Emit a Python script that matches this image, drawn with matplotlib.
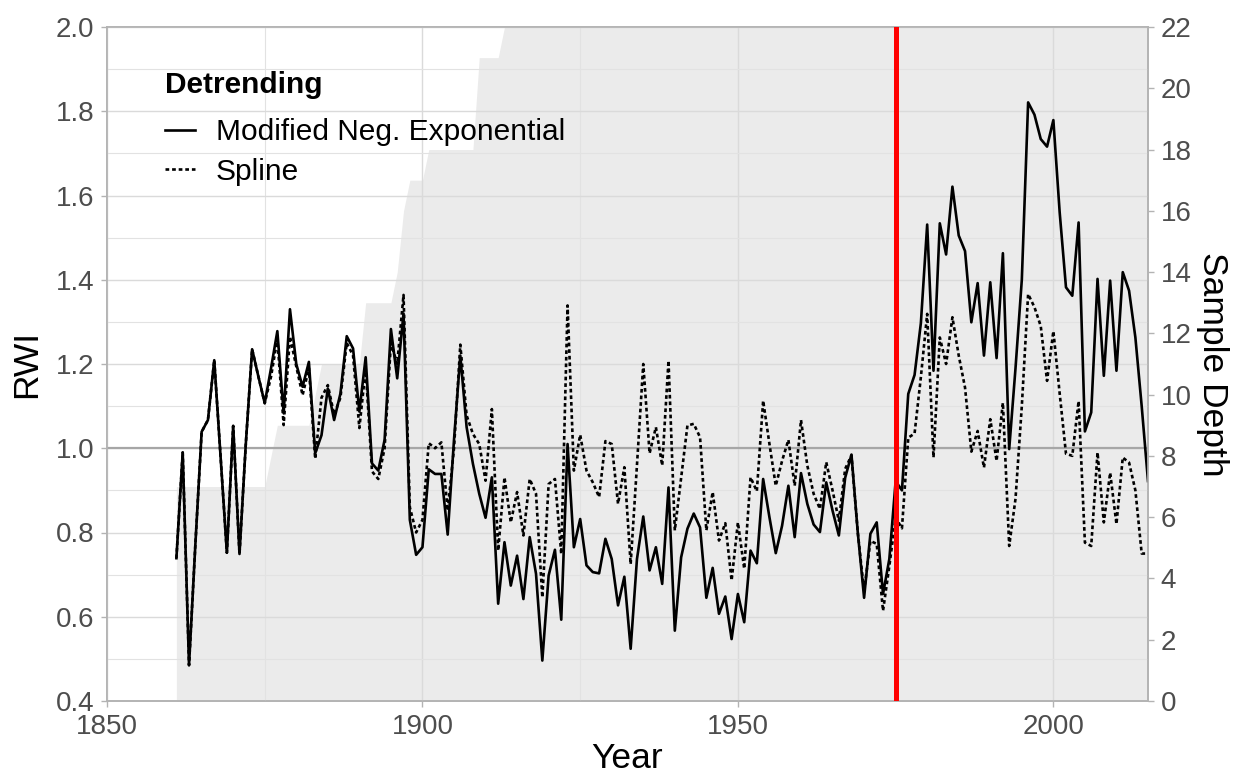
import numpy as np
import matplotlib
matplotlib.use('Agg')
import matplotlib.pyplot as plt

plt.rcParams['font.family'] = ['Liberation Sans', 'DejaVu Sans']

#####################################################################
#                           DATA                                    #
#####################################################################

years = list(range(1861, 2016))

# Modified negative exponential detrending (solid)
mne = [0.739, 0.990, 0.485, 0.770, 1.039, 1.067, 1.209, 0.981, 0.752, 1.053,
       0.749, 1.010, 1.235, 1.170, 1.107, 1.190, 1.278, 1.083, 1.330, 1.200,
       1.146, 1.205, 0.988, 1.031, 1.142, 1.067, 1.130, 1.266, 1.237, 1.087,
       1.216, 0.964, 0.947, 1.020, 1.283, 1.166, 1.320, 0.830, 0.747, 0.765,
       0.950, 0.939, 0.939, 0.795, 1.020, 1.220, 1.050, 0.963, 0.892, 0.835,
       0.931, 0.631, 0.777, 0.674, 0.745, 0.642, 0.789, 0.702, 0.496, 0.698,
       0.759, 0.593, 1.010, 0.765, 0.832, 0.722, 0.706, 0.703, 0.785, 0.737,
       0.627, 0.695, 0.524, 0.737, 0.838, 0.710, 0.765, 0.678, 0.907, 0.567,
       0.741, 0.809, 0.845, 0.812, 0.645, 0.716, 0.607, 0.648, 0.547, 0.654,
       0.587, 0.757, 0.727, 0.927, 0.836, 0.751, 0.816, 0.911, 0.789, 0.941,
       0.868, 0.819, 0.801, 0.919, 0.852, 0.793, 0.930, 0.985, 0.800, 0.645,
       0.797, 0.824, 0.654, 0.737, 0.922, 0.900, 1.129, 1.174, 1.297, 1.531,
       1.184, 1.534, 1.460, 1.621, 1.505, 1.468, 1.299, 1.392, 1.220, 1.394,
       1.214, 1.463, 0.998, 1.190, 1.400, 1.821, 1.792, 1.734, 1.716, 1.779,
       1.560, 1.382, 1.362, 1.536, 1.040, 1.085, 1.402, 1.172, 1.398, 1.184,
       1.418, 1.374, 1.263, 1.100, 0.922]

# Spline detrending (dotted)
spline = [0.739, 0.990, 0.485, 0.770, 1.039, 1.067, 1.209, 0.981, 0.752, 1.053,
          0.749, 1.010, 1.235, 1.170, 1.107, 1.170, 1.260, 1.055, 1.265, 1.194,
          1.126, 1.190, 0.975, 1.120, 1.150, 1.080, 1.120, 1.250, 1.220, 1.048,
          1.190, 0.945, 0.927, 1.000, 1.250, 1.200, 1.364, 0.860, 0.800, 0.830,
          1.012, 1.000, 1.014, 0.852, 1.000, 1.246, 1.078, 1.034, 1.010, 0.923,
          1.093, 0.757, 0.931, 0.824, 0.896, 0.793, 0.927, 0.892, 0.646, 0.915,
          0.927, 0.749, 1.339, 0.947, 1.032, 0.947, 0.919, 0.884, 1.017, 1.010,
          0.868, 0.955, 0.725, 0.960, 1.200, 0.988, 1.050, 0.959, 1.208, 0.805,
          0.930, 1.054, 1.058, 1.026, 0.805, 0.896, 0.781, 0.822, 0.686, 0.824,
          0.714, 0.931, 0.898, 1.113, 1.010, 0.911, 0.970, 1.020, 0.911, 1.067,
          0.959, 0.892, 0.856, 0.967, 0.900, 0.828, 0.951, 0.983, 0.800, 0.660,
          0.780, 0.773, 0.614, 0.720, 0.835, 0.810, 1.025, 1.035, 1.169, 1.319,
          0.978, 1.263, 1.200, 1.311, 1.220, 1.144, 0.992, 1.041, 0.954, 1.069,
          0.970, 1.108, 0.768, 0.880, 1.100, 1.366, 1.335, 1.290, 1.160, 1.278,
          1.130, 0.987, 0.982, 1.112, 0.776, 0.768, 0.990, 0.824, 0.942, 0.820,
          0.978, 0.966, 0.900, 0.750, 0.750]

# number of series per year (values above 22 are off the chart)
depth = ([7] * 15 + [8] + [9] * 6 + [10] + [11] * 7 + [13] * 5 + [14, 16]
         + [17] * 3 + [18] * 8 + [21] * 4 + [22] + [24] * 102)

cutoff_year = 1975

#####################################################################
#                           PLOT                                    #
#####################################################################

fig = plt.figure(figsize=(12.39, 7.76), dpi=100)
ax = fig.add_axes([107 / 1239, 1 - 701 / 776, (1148 - 107) / 1239, (701 - 27) / 776])
ax_d = ax.twinx()
ax.set_zorder(ax_d.get_zorder() + 1)
ax.patch.set_visible(False)

# sample depth area on the secondary axis (drawn underneath)
ax_d.fill_between(years, 0, depth, color='#EBEBEB', lw=0)
ax_d.set_ylim(0, 22)
ax_d.set_yticks(range(0, 23, 2))

# grid
ax.set_xlim(1850, 2015)
ax.set_ylim(0.4, 2.0)
ax.set_xticks([1850, 1900, 1950, 2000])
ax.set_xticks([1875, 1925, 1975], minor=True)
ax.set_yticks(np.arange(0.4, 2.01, 0.2))
ax.set_yticks(np.arange(0.5, 2.0, 0.2), minor=True)
ax.set_yticklabels(['%.1f' % v for v in np.arange(0.4, 2.01, 0.2)])
ax.set_axisbelow(True)
ax.grid(which='major', color='#DADADA', lw=1.0)
ax.grid(which='minor', color='#E2E2E2', lw=0.8)

ax.axhline(1.0, color='#A6A6A6', lw=1.6, zorder=1.8)

ax.plot(years, spline, color='black', lw=1.9, ls=(0, (1.4, 1.1)), label='Spline', zorder=2)
ax.plot(years, mne, color='black', lw=1.9, label='Modified Neg. Exponential', zorder=2.1)
ax.axvline(cutoff_year, color='#FF0000', lw=3.6, zorder=3)

# styling
for a in (ax, ax_d):
    for s in a.spines.values():
        s.set_color('#B3B3B3')
        s.set_linewidth(1.2)
    a.tick_params(which='major', colors='#B3B3B3', labelcolor='#4D4D4D',
                  labelsize=20, length=4, width=1, pad=5)
    a.tick_params(which='minor', length=0)

ax.set_xlabel('Year', fontsize=25.5, labelpad=2)
ax.set_ylabel('RWI', fontsize=25.5, labelpad=9)
ax_d.set_ylabel('Sample Depth', fontsize=25.5, rotation=270, va='bottom', labelpad=3)

handles, labels = ax.get_legend_handles_labels()
leg = ax.legend(handles[::-1], labels[::-1], loc='upper left', bbox_to_anchor=(0.0557, 0.935),
                frameon=False, fontsize=21.5, title='Detrending',
                title_fontproperties={'weight': 'bold', 'size': 21.5}, alignment='left',
                handlelength=1.0, handletextpad=0.7, borderpad=0, labelspacing=0.38,
                borderaxespad=0)
leg._legend_box.sep = 14

fig.savefig('out.png', dpi=100)
